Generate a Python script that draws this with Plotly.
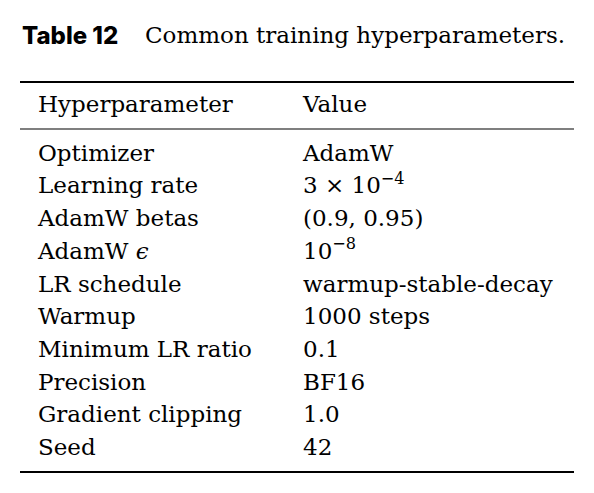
import plotly.graph_objects as go

headers = ["Hyperparameter", "Value"]
params = ["Optimizer", "Learning rate", "AdamW betas", "AdamW <i>ϵ</i>", "LR schedule",
          "Warmup", "Minimum LR ratio", "Precision", "Gradient clipping", "Seed"]
values = ["AdamW", "3 × 10<sup>−4</sup>", "(0.9, 0.95)", "10<sup>−8</sup>", "warmup-stable-decay",
          "1000 steps", "0.1", "BF16", "1.0", "42"]

W, H = 594, 493
OX, OY = -8, -8  # compensate page body margin
fig = go.Figure()
font = dict(family="DejaVu Serif", size=23, color="black")
row_y = [155 + OY + i * 32.7 for i in range(len(params))]

fig.add_trace(go.Scatter(x=[38 + OX, 303 + OX], y=[106 + OY] * 2, mode="text", text=headers,
                         textposition="middle right", textfont=font, hoverinfo="skip"))
fig.add_trace(go.Scatter(x=[38 + OX] * len(params), y=row_y, mode="text", text=params,
                         textposition="middle right", textfont=font, hoverinfo="skip"))
fig.add_trace(go.Scatter(x=[303 + OX] * len(values), y=row_y, mode="text", text=values,
                         textposition="middle right", textfont=font, hoverinfo="skip"))

for y, w in [(82, 2), (129, 1.2), (472, 2)]:
    fig.add_shape(type="line", x0=20 + OX, x1=574 + OX, y0=y + OY, y1=y + OY, xref="x", yref="y",
                  line=dict(color="black", width=w))

fig.add_annotation(x=20 + OX, y=35 + OY, xref="x", yref="y", xanchor="left", yanchor="middle",
                   showarrow=False, text="Table 12",
                   font=dict(family="Inter", size=24, color="black", weight=800))
fig.add_annotation(x=143 + OX, y=35 + OY, xref="x", yref="y", xanchor="left", yanchor="middle",
                   showarrow=False, text="Common training hyperparameters.", font=font)

fig.update_layout(width=W, height=H, margin=dict(l=0, r=0, t=0, b=0),
                  plot_bgcolor="white", paper_bgcolor="white", showlegend=False,
                  xaxis=dict(range=[0, W], visible=False, fixedrange=True),
                  yaxis=dict(range=[H, 0], visible=False, fixedrange=True))
fig.write_html("out.html")
